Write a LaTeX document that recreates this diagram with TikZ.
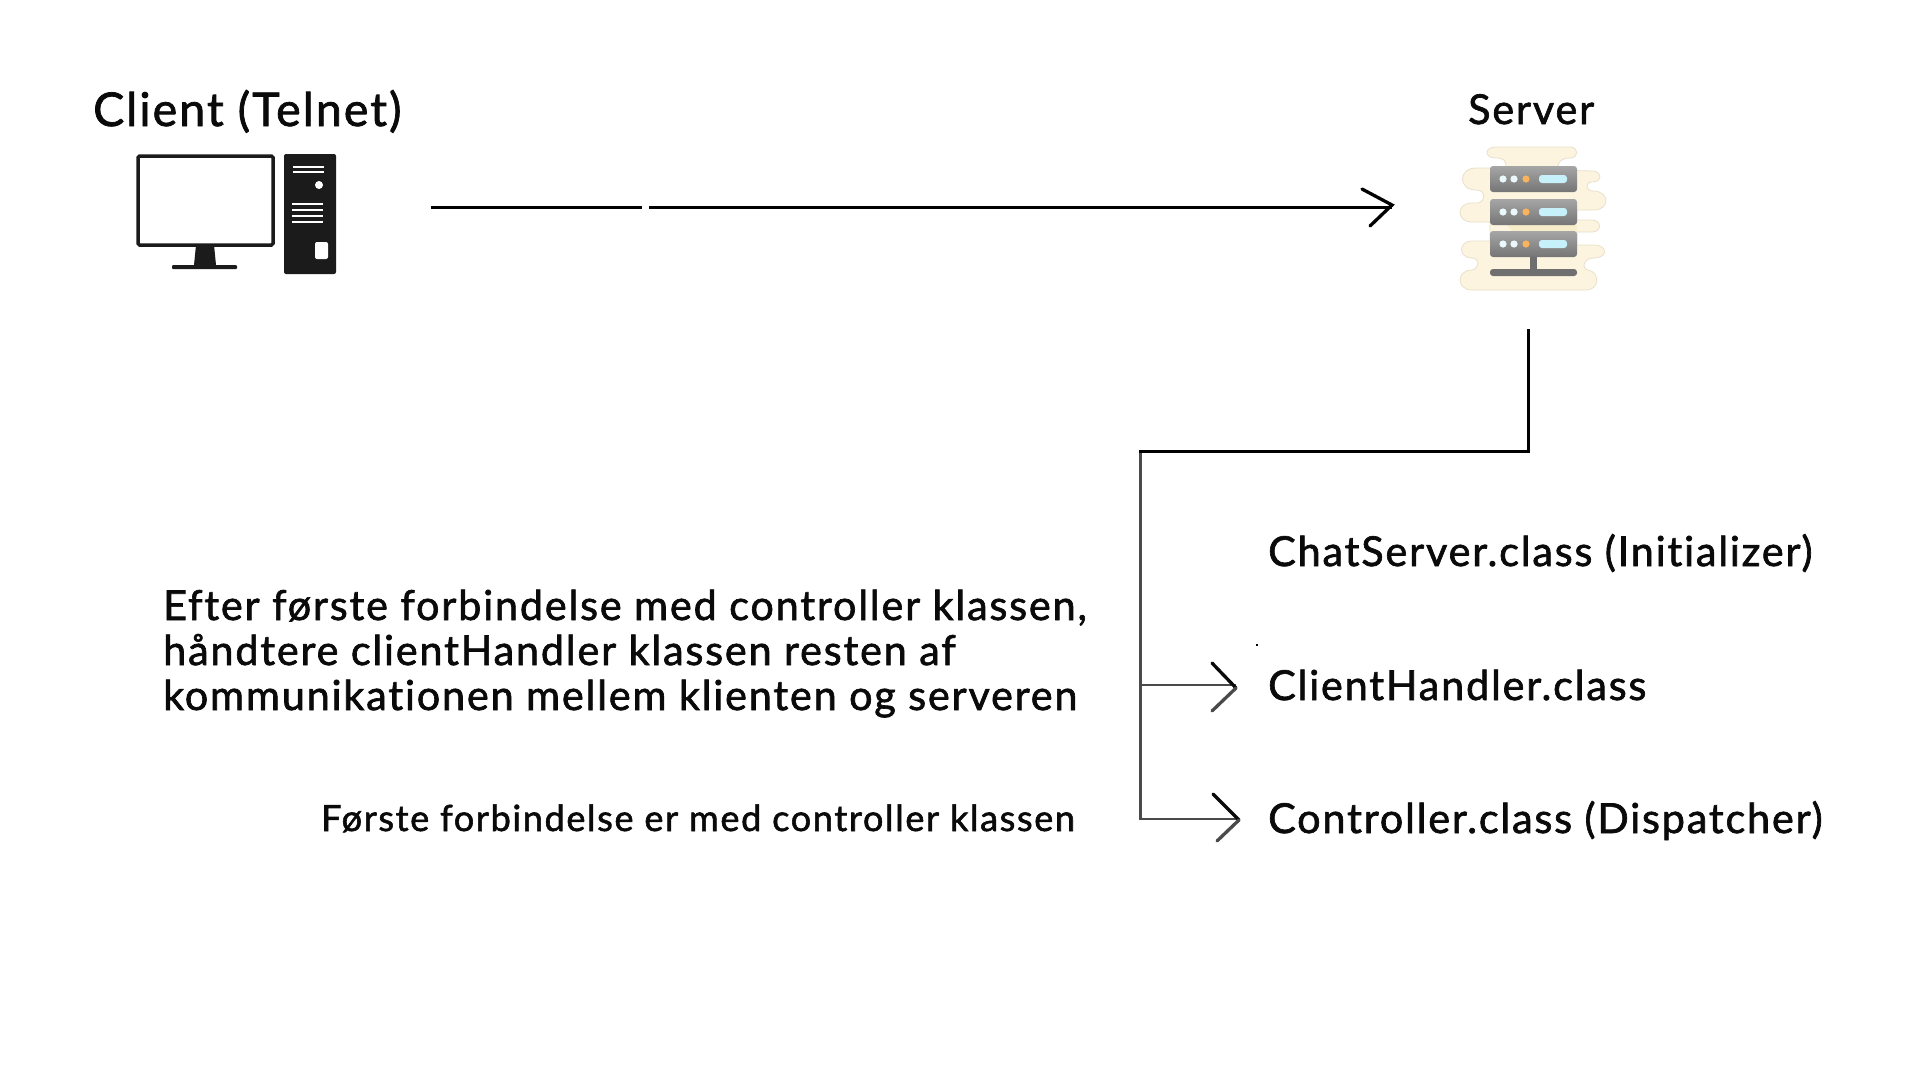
\documentclass[tikz,border=0pt]{standalone}
\usepackage{fontspec}
\setmainfont{Lato}[Ligatures=NoCommon,FakeBold=1.6,LetterSpace=4.5]
\definecolor{ink}{HTML}{0A0A0A}
\definecolor{lin}{HTML}{4A4A4A}
\definecolor{cream}{HTML}{FDF4DF}
\definecolor{creamdk}{HTML}{F8EDCB}
\definecolor{creamedge}{HTML}{E9E0CC}
\definecolor{racktop}{HTML}{A6A6A6}
\definecolor{rackbot}{HTML}{757575}
\definecolor{rackdk}{HTML}{6F6F6F}
\definecolor{led}{HTML}{EAF8FB}
\definecolor{amber}{HTML}{F8B35C}
\definecolor{bar}{HTML}{C6F0FA}
\definecolor{pcblack}{HTML}{1B1B1B}
\tikzset{
  x=1pt,y=-1pt,
  big/.style={inner sep=0pt,anchor=base west,font=\fontsize{46.5}{46}\selectfont,text=ink},
  mid/.style={inner sep=0pt,anchor=base west,font=\fontsize{41.3}{45}\selectfont,text=ink},
  small/.style={inner sep=0pt,anchor=base west,font=\fontsize{36.1}{45}\selectfont,text=ink},
  link/.style={line width=3pt,black},
  thin link/.style={line width=2.8pt,lin},
  tipline/.style={line width=3.3pt,line cap=round},
}
\begin{document}
\begin{tikzpicture}
\useasboundingbox (0,0) rectangle (1920,1080);
\fill[white] (0,0) rectangle (1920,1080);
% texts
\node[big] (client) at (93,126) {Client (Telnet)};
\node[mid] (server) at (1468,124) {Server};
\node[mid] (chat) at (1268,566) {ChatServer.class (Initializer)};
\node[mid] (handler) at (1268,700) {ClientHandler.class};
\node[mid] (controller) at (1268,833) {Controller.class (Dispatcher)};
\node[mid] (t1) at (163,620) {Efter første forbindelse med controller klassen,};
\node[mid] (t2) at (163,665) {håndtere clientHandler klassen resten af};
\node[mid] (t3) at (163,710) {kommunikationen mellem klienten og serveren};
\node[small] (t4) at (321,831) {Første forbindelse er med controller klassen};
% computer
\draw[pcblack,line width=3.5pt,rounded corners=1.5pt,fill=white] (138,156) rectangle (273,245);
\fill[pcblack] (196,245) -- (214,245) -- (216,265) -- (194,265) -- cycle;
\fill[pcblack,rounded corners=1pt] (172,265) rectangle (237,269);
\fill[pcblack,rounded corners=2pt] (284,154) -- (336,154) -- (336,274) -- (284,274) -- cycle;
\foreach \y in {167,172}{\fill[white] (293,\y-1) rectangle (324,\y+1);}
\fill[white] (319,185) circle (4pt);
\foreach \y in {204,210,216,222}{\fill[white] (292,\y-1) rectangle (323,\y+1);}
\fill[white,rounded corners=2pt] (315,242) rectangle (328,259);
% server icon
\fill[cream,draw=creamedge,line width=.8pt]
 (1496,147) -- (1570,147) .. controls (1579,147) and (1579,158) .. (1570,158)
 .. controls (1558,158) and (1558,166) .. (1556,170) -- (1592,171)
 .. controls (1602,171) and (1603,182) .. (1592,182)
 .. controls (1585,182) and (1585,191) .. (1593,191)
 .. controls (1610,191) and (1610,210) .. (1594,210) -- (1577,210) -- (1577,220) -- (1592,220)
 .. controls (1602,220) and (1602,232) .. (1592,232) -- (1577,232) -- (1577,245) -- (1594,245)
 .. controls (1608,245) and (1608,258) .. (1594,258)
 .. controls (1582,258) and (1582,270) .. (1588,270)
 .. controls (1600,272) and (1600,290) .. (1586,290) -- (1472,290)
 .. controls (1456,290) and (1456,270) .. (1472,270)
 .. controls (1480,268) and (1480,258) .. (1472,258)
 .. controls (1458,258) and (1458,241) .. (1472,241) -- (1490,241) -- (1490,222) -- (1472,222)
 .. controls (1456,222) and (1456,203) .. (1472,203) -- (1478,203)
 .. controls (1486,201) and (1486,190) .. (1476,190)
 .. controls (1458,190) and (1458,168) .. (1476,168) -- (1506,168)
 .. controls (1506,160) and (1504,158) .. (1496,158)
 .. controls (1484,158) and (1484,147) .. (1496,147) -- cycle;
\fill[creamdk] (1507,225) -- (1577,225) -- (1577,231) -- (1512,231) -- cycle;
\foreach \y in {166,199,231}{
  \shade[top color=racktop,bottom color=rackbot,rounded corners=3pt] (1490,\y) rectangle (1577,\y+26);
  \fill[led] (1503,\y+13) circle (3.6pt);
  \fill[led] (1514,\y+13) circle (3.6pt);
  \fill[amber] (1526,\y+13) circle (3.6pt);
  \fill[bar,rounded corners=3pt] (1539,\y+9) rectangle (1567,\y+17);
}
\fill[rackdk] (1530,257) rectangle (1537,270);
\fill[rackdk,rounded corners=3pt] (1490,269) rectangle (1577,276);
% connectors
\coordinate (a0) at (431,207.5);
\coordinate (a1) at (642,207.5);
\coordinate (a2) at (649,207.5);
\coordinate (a3) at (1392,207.5);
\coordinate (a4) at (1392,205);
\draw[link] (a0) -- (a1);
\draw[link] (a2) -- (a3);
\draw[tipline] (1362,189) -- (a4) -- (1370,226);
\coordinate (b0) at (1528,329);
\coordinate (b1) at (1528,451);
\coordinate (b2) at (1139,451);
\coordinate (c0) at (1140.5,451);
\coordinate (c1) at (1140.5,819);
\coordinate (c2) at (1236,685);
\coordinate (c3) at (1239,819);
\coordinate (c4) at (1140.5,685);
\draw[thin link] (c0) -- (c1) -- (c3);
\draw[thin link] (c4) -- (c2);
\draw[link] (b0) -- (b1) -- (b2);
\draw[tipline,ink] (1212,663) -- (1236,688);
\draw[tipline,lin] (1236,688) -- (1212,711);
\draw[tipline,ink] (1213,794) -- (1239,820);
\draw[tipline,lin] (1239,820) -- (1217,841);
\fill[black] (1256,644) rectangle (1258,646);
\end{tikzpicture}
\end{document}
